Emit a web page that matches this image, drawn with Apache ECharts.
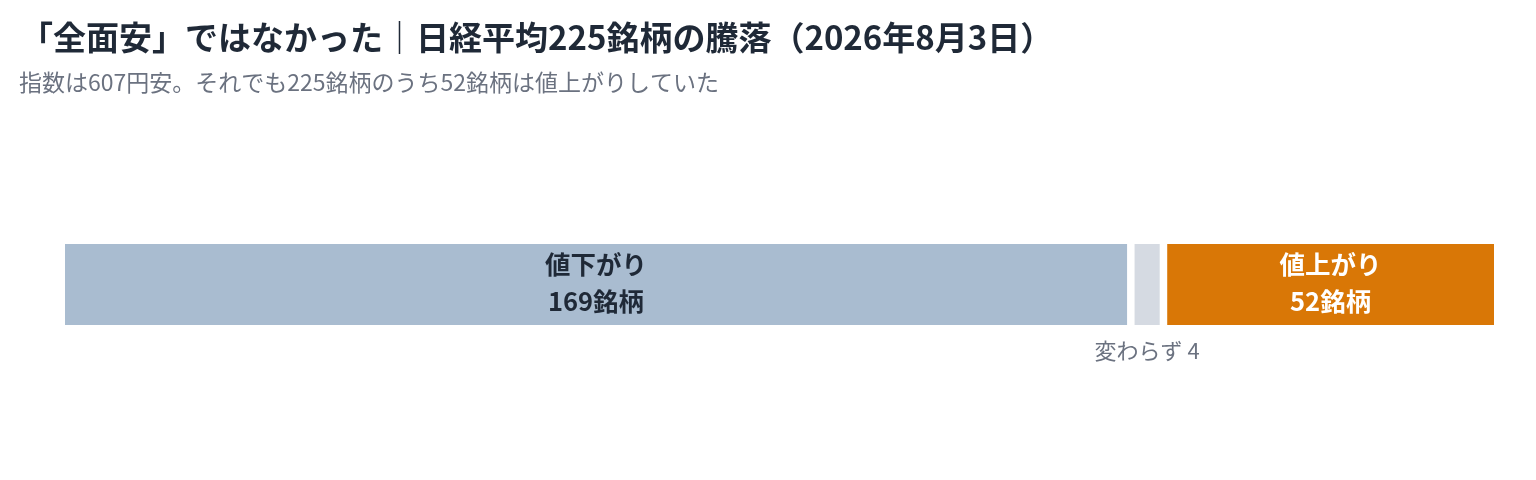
<!DOCTYPE html>
<html>
<head>
<meta charset="utf-8">
<script src="https://cdn.jsdelivr.net/npm/echarts@6/dist/echarts.min.js"></script>
<style>
  html, body { margin: 0; padding: 0; background: #fff; }
  #main { width: 1536px; height: 480px; }
</style>
</head>
<body>
<div id="main"></div>
<script>
// 騰落の内訳（2026年8月3日）
const categories = ['値下がり', '変わらず', '値上がり'];
const counts = [169, 4, 52];
const unit = '銘柄';
const titleText = '「全面安」ではなかった｜日経平均225銘柄の騰落（2026年8月3日）';
const subText = '指数は607円安。それでも225銘柄のうち52銘柄は値上がりしていた';

const colors = ['#a9bcd0', '#d5dae2', '#d97706'];
const labelColors = ['#1f2937', '#6b7280', '#ffffff'];
const FONT = '"Noto Sans CJK JP", "Noto Sans", sans-serif';

const chart = echarts.init(document.getElementById('main'));

const GRID_LEFT = 65;
const GRID_RIGHT = 42;
const GAP_PX = 7.5;
const total = counts.reduce((a, b) => a + b, 0);
const gridW = 1536 - GRID_LEFT - GRID_RIGHT;
// gap between segments, expressed in axis units
const gapUnits = GAP_PX * total / (gridW - GAP_PX * (counts.length - 1));

const series = [];
counts.forEach((v, i) => {
  if (i > 0) {
    series.push({
      type: 'bar', stack: 'all', silent: true,
      data: [gapUnits],
      itemStyle: { color: 'transparent' }
    });
  }
  const small = i === 1;
  series.push({
    name: categories[i],
    type: 'bar',
    stack: 'all',
    barWidth: '100%',
    data: [v],
    itemStyle: { color: colors[i] },
    label: {
      show: true,
      position: small ? 'bottom' : 'inside',
      distance: 14,
      offset: small ? [0, -1] : [0, -2],
      formatter: small
        ? categories[i] + ' ' + v
        : categories[i] + '\n' + v + unit,
      color: labelColors[i],
      fontFamily: FONT,
      fontSize: small ? 22 : 25.5,
      fontWeight: small ? 'normal' : 'bold',
      lineHeight: small ? 26 : 37
    }
  });
});

chart.setOption({
  animation: false,
  title: [
    {
      text: titleText,
      left: 15, top: 16,
      textStyle: { fontFamily: FONT, fontSize: 33, fontWeight: 'bold', color: '#1f2937' }
    },
    {
      text: subText,
      left: 14, top: 66,
      textStyle: { fontFamily: FONT, fontSize: 23, fontWeight: 'normal', color: '#6b7280' }
    }
  ],
  grid: { left: GRID_LEFT, right: GRID_RIGHT, top: 244, bottom: 155 },
  xAxis: {
    type: 'value', min: 0, max: total + gapUnits * (counts.length - 1),
    show: false
  },
  yAxis: {
    type: 'category', data: ['騰落'], show: false
  },
  series: series
});
</script>
</body>
</html>
